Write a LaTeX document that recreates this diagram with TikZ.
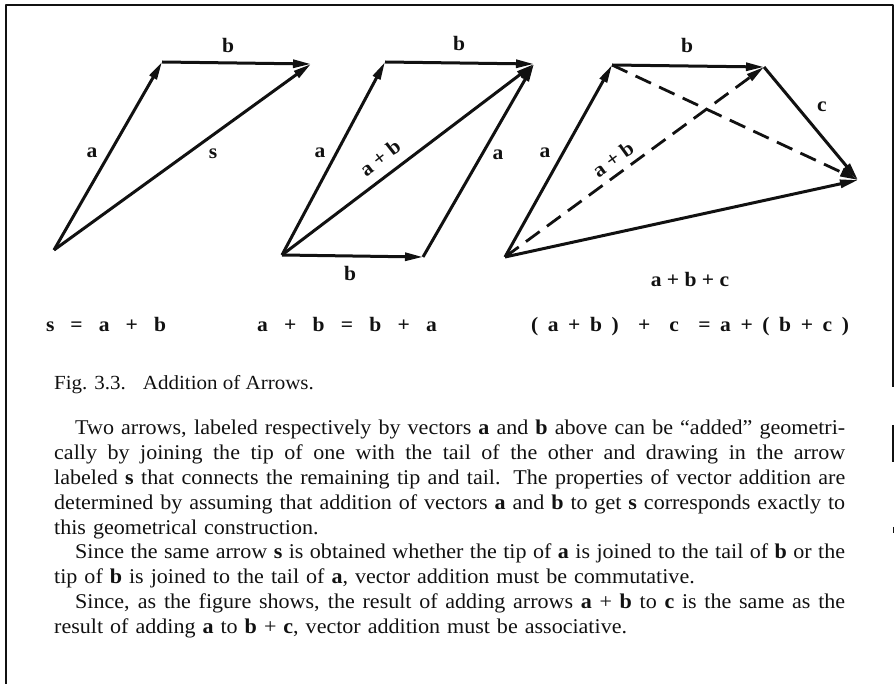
\documentclass[tikz,border=0pt]{standalone}
\usepackage{fontspec}
\setmainfont[FakeStretch=1.05]{Liberation Serif}
\usepackage{xcolor}
\usetikzlibrary{arrows.meta}
\definecolor{ink}{HTML}{111111}
\newlength\bodywd
\setlength\bodywd{791pt}
% one justified line of the text block
\newcommand\fullline[1]{\makebox[\bodywd][s]{\spaceskip=0pt\xspaceskip=0pt #1}}

\begin{document}
\begin{tikzpicture}[x=1pt, y=-1pt, ink, line join=round]
        \tikzstyle{vec} = [draw, line width=3pt, -{Triangle[length=18pt, width=8pt]}]
        \tikzstyle{dvec} = [vec, line width=2.8pt, dash pattern=on 17pt off 9pt]
        \tikzstyle{lbl} = [font=\fontsize{20.5}{24}\selectfont\bfseries, inner sep=0pt]
        \tikzstyle{frame} = [draw, line width=1.6pt]
        \useasboundingbox (0,0) rectangle (895,684);

        % page frame
        \draw [frame] (6,684) -- (6,5) -- (893,5) -- (893,387);
        \draw [frame] (893,425) -- (893,462);
        \draw [frame, line width=1pt] (893,527) -- (893,533);

        % s = a + b
        \coordinate (o1) at (54,250);
        \coordinate (a1) at (162,62);
        \coordinate (b1) at (311,64);
        \path [vec] (o1) -- (a1);
        \path [vec] (a1) -- (b1);
        \path [vec] (o1) -- (b1);
        \node [lbl] (la1) at (92,153) {a};
        \node [lbl] (lb1) at (228,45) {b};
        \node [lbl] (ls1) at (213,154) {s};

        % a + b = b + a
        \coordinate (o2) at (282,255);
        \coordinate (a2) at (385,62);
        \coordinate (c2) at (534,64);
        \coordinate (b2) at (423,257);
        \path [vec] (o2) -- (a2);
        \path [vec] (a2) -- (c2);
        \path [vec] (o2) -- (b2);
        \path [vec] (b2) -- (c2);
        \path [vec] (o2) -- (c2);
        \node [lbl] (la2) at (320,153) {a};
        \node [lbl] (lb2) at (459,43) {b};
        \node [lbl] (lr2) at (498,155) {a};
        \node [lbl] (ld2) at (350,273) {b};
        \node [lbl, rotate=38] (ls2) at (380,158) {a + b};

        % (a + b) + c = a + (b + c)
        \coordinate (o3) at (505,257);
        \coordinate (a3) at (612,65);
        \coordinate (b3) at (764,67);
        \coordinate (c3) at (858,180);
        \path [vec] (o3) -- (a3);
        \path [vec] (a3) -- (b3);
        \path [vec] (b3) -- (c3);
        \path [vec] (o3) -- (c3);
        \path [dvec] (o3) -- (b3);
        \path [dvec] (a3) -- (c3);
        \node [lbl] (la3) at (545,153) {a};
        \node [lbl] (lb3) at (687,45) {b};
        \node [lbl] (lc3) at (822,107) {c};
        \node [lbl, rotate=36] (ls3) at (613,159) {a + b};
        \node [lbl] (lt3) at (690,279) {a + b + c};

        % equations
        \node [lbl, anchor=base] (eq1) at (106,332) {\makebox[120pt][s]{s = a + b}};
        \node [lbl, anchor=base] (eq2) at (347,332) {\makebox[180pt][s]{a + b = b + a}};
        \node [lbl, anchor=base] (eq3) at (690,332) {\makebox[318pt][s]{( a + b )\ \ + \ c \ = a + ( b + c )}};

        % caption and text
        \node [anchor=base west, inner sep=0pt, font=\fontsize{20}{25}\selectfont] (cap) at (54,390) {Fig. 3.3.\hspace{17pt}Addition of Arrows.};
        \node [anchor=base west, inner sep=0pt, text width=\bodywd, align=left, font=\fontsize{21}{24.8}\selectfont] (body) at (54,435) {%
\fullline{\hspace*{21pt}Two arrows, labeled respectively by vectors \textbf{a} and \textbf{b} above can be ``added'' geometri-}\\
\fullline{cally by joining the tip of one with the tail of the other and drawing in the arrow}\\
\fullline{labeled \textbf{s} that connects the remaining tip and tail. The properties of vector addition are}\\
\fullline{determined by assuming that addition of vectors \textbf{a} and \textbf{b} to get \textbf{s} corresponds exactly to}\\
this geometrical construction.\\
\fullline{\hspace*{21pt}Since the same arrow \textbf{s} is obtained whether the tip of \textbf{a} is joined to the tail of \textbf{b} or the}\\
tip of \textbf{b} is joined to the tail of \textbf{a}, vector addition must be commutative.\\
\fullline{\hspace*{21pt}Since, as the figure shows, the result of adding arrows \textbf{a} + \textbf{b} to \textbf{c} is the same as the}\\
result of adding \textbf{a} to \textbf{b} + \textbf{c}, vector addition must be associative.};
    \end{tikzpicture}
\end{document}
